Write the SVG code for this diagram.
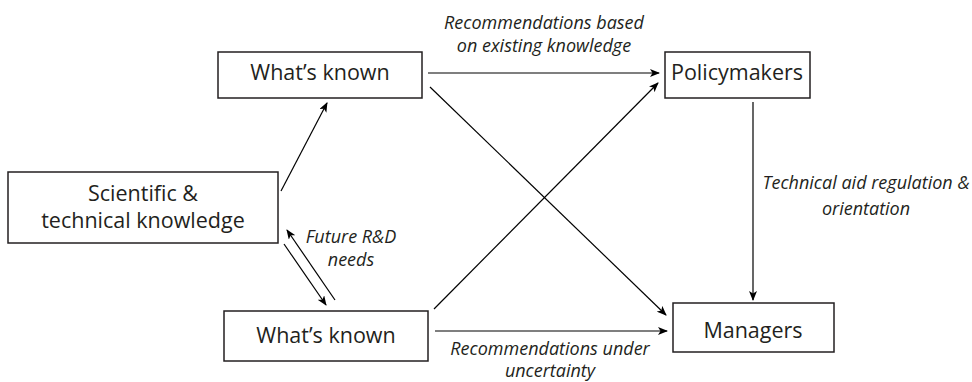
<svg xmlns="http://www.w3.org/2000/svg" width="972" height="382" viewBox="0 0 972 382">
<defs>
<style>
.box{fill:#fff;stroke:#231f20;stroke-width:1.5}
.bt{font-family:"Open Sans","Liberation Sans",sans-serif;font-size:21.5px;fill:#231f20;text-anchor:middle}
.lb{font-family:"Open Sans","Liberation Sans",sans-serif;font-size:18px;font-style:italic;fill:#231f20;text-anchor:middle}
.ar{fill:none;stroke:#000;stroke-width:1.2;marker-end:url(#ah)}
</style>
<marker id="ah" viewBox="0 0 10 8" refX="9" refY="4" markerWidth="10" markerHeight="8" markerUnits="userSpaceOnUse" orient="auto">
<path d="M0,0 L10,4 L0,8 L2.5,4 z" fill="#000"/>
</marker>
</defs>
<rect width="972" height="382" fill="#fff"/>
<g id="connectors">
<line class="ar" x1="281" y1="191" x2="327" y2="103"/>
<line class="ar" x1="428" y1="73" x2="659" y2="73"/>
<line class="ar" x1="430" y1="87" x2="666" y2="315"/>
<line class="ar" x1="434" y1="309" x2="658" y2="83"/>
<line class="ar" x1="435" y1="331" x2="667" y2="331"/>
<line class="ar" x1="753" y1="102" x2="753" y2="300"/>
<line class="ar" x1="335" y1="300" x2="287" y2="230"/>
<line class="ar" x1="284" y1="244" x2="326" y2="305"/>
</g>
<g id="labels">
<text class="lb" x="544" y="29">Recommendations based</text>
<text class="lb" x="544" y="52">on existing knowledge</text>
<text class="lb" x="866" y="189">Technical aid regulation &amp;</text>
<text class="lb" x="866" y="215">orientation</text>
<text class="lb" x="351" y="243">Future R&amp;D</text>
<text class="lb" x="351" y="266">needs</text>
<text class="lb" x="550" y="355">Recommendations under</text>
<text class="lb" x="550" y="377">uncertainty</text>
</g>
<g id="sci">
<rect class="box" x="8" y="172" width="270" height="71"/>
<text class="bt" x="143" y="201">Scientific &amp;</text>
<text class="bt" x="143" y="228">technical knowledge</text>
</g>
<g id="known-top">
<rect class="box" x="218" y="52" width="204" height="46"/>
<text class="bt" x="320" y="80">What’s known</text>
</g>
<g id="policymakers">
<rect class="box" x="665" y="52" width="145" height="46"/>
<text class="bt" x="737" y="80">Policymakers</text>
</g>
<g id="known-bottom">
<rect class="box" x="224" y="311" width="204" height="50"/>
<text class="bt" x="326" y="343">What’s known</text>
</g>
<g id="managers">
<rect class="box" x="673" y="303" width="161" height="49"/>
<text class="bt" x="753" y="338">Managers</text>
</g>
</svg>
